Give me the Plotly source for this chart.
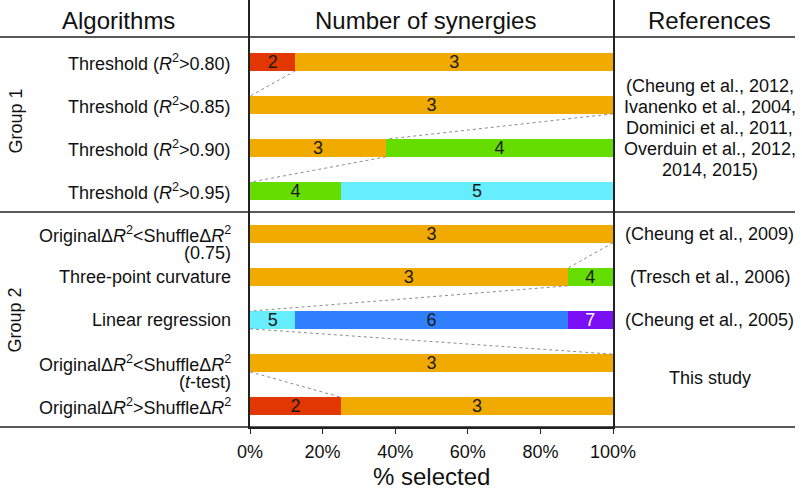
import plotly.graph_objects as go

# ---------------- data ----------------
row_labels = [
    "Threshold (<i>R</i><sup>2</sup>&gt;0.80)",
    "Threshold (<i>R</i><sup>2</sup>&gt;0.85)",
    "Threshold (<i>R</i><sup>2</sup>&gt;0.90)",
    "Threshold (<i>R</i><sup>2</sup>&gt;0.95)",
    "OriginalΔ<i>R</i><sup>2</sup>&lt;ShuffleΔ<i>R</i><sup>2</sup>",
    "Three-point curvature",
    "Linear regression",
    "OriginalΔ<i>R</i><sup>2</sup>&lt;ShuffleΔ<i>R</i><sup>2</sup>",
    "OriginalΔ<i>R</i><sup>2</sup>&gt;ShuffleΔ<i>R</i><sup>2</sup>",
]
row_sublabels = ["", "", "", "", "(0.75)", "", "", "(<i>t</i>-test)", ""]

synergy_counts = [2, 3, 4, 5, 6, 7]
pct_2 = [12.5, 0, 0, 0, 0, 0, 0, 0, 25]
pct_3 = [87.5, 100, 37.5, 0, 100, 87.5, 0, 100, 75]
pct_4 = [0, 0, 62.5, 25, 0, 12.5, 0, 0, 0]
pct_5 = [0, 0, 0, 75, 0, 0, 12.5, 0, 0]
pct_6 = [0, 0, 0, 0, 0, 0, 75, 0, 0]
pct_7 = [0, 0, 0, 0, 0, 0, 12.5, 0, 0]
series = [pct_2, pct_3, pct_4, pct_5, pct_6, pct_7]

# connectors: (row_from, pct_from, row_to, pct_to)
connectors = [
    (0, 12.5, 1, 0),
    (1, 100, 2, 37.5),
    (2, 37.5, 3, 0),
    (4, 100, 5, 87.5),
    (5, 87.5, 6, 0),
    (6, 0, 7, 100),
    (7, 0, 8, 25),
]

references = [
    (1.5, ["(Cheung et al., 2012,", "Ivanenko et al., 2004,", "Dominici et al., 2011,",
           "Overduin et al., 2012,", "2014, 2015)"]),
    (4, ["(Cheung et al., 2009)"]),
    (5, ["(Tresch et al., 2006)"]),
    (6, ["(Cheung et al., 2005)"]),
    (7.35, ["This study"]),
]
groups = [("Group 1", 1.37), ("Group 2", 6.0)]
x_ticks = [0, 20, 40, 60, 80, 100]

# ---------------- style ----------------
colors = {2: "#e23700", 3: "#f0aa00", 4: "#66dd00", 5: "#66eeff", 6: "#2f7fff", 7: "#7a10f5"}
text_colors = {2: "#1a1a1a", 3: "#1a1a1a", 4: "#1a1a1a", 5: "#1a1a1a", 6: "#1a1a1a", 7: "#ffffff"}
FONT = "Liberation Sans, Arial, Helvetica, sans-serif"
INK = "#111111"
LINE = "#222222"

W, H = 802, 492
L, R, T, B = 250, 189, 0, 65
PW = W - L - R
Y_RANGE = [8.488, -1.442]
BAR_W = 0.41

def px_x(px):
    return (px - L) / PW

rows = list(range(len(row_labels)))

fig = go.Figure()

for n, vals in zip(synergy_counts, series):
    ys = [r for r, v in zip(rows, vals) if v > 0]
    xs = [v for v in vals if v > 0]
    fig.add_trace(go.Bar(
        y=ys, x=xs, orientation="h", width=BAR_W,
        marker=dict(color=colors[n], line=dict(width=0)),
        text=[str(n)] * len(xs),
        textposition="inside", insidetextanchor="middle", textangle=0,
        constraintext="none",
        textfont=dict(family=FONT, size=18, color=text_colors[n]),
        hoverinfo="skip", showlegend=False,
    ))

half = BAR_W / 2
for r0, p0, r1, p1 in connectors:
    fig.add_trace(go.Scatter(
        x=[p0, p1], y=[r0 + half, r1 - half], mode="lines",
        line=dict(color="#8c8c8c", width=1, dash="dot"),
        hoverinfo="skip", showlegend=False,
    ))

annotations = []
# headers
for txt, px in [("Algorithms", 118), ("Number of synergies", 425), ("References", 709.5)]:
    annotations.append(dict(text=txt, x=px_x(px), xref="paper", y=-0.977, yref="y",
                            xanchor="center", yanchor="middle", showarrow=False,
                            font=dict(family=FONT, size=24, color=INK)))
# row labels
for i, (lab, sub) in enumerate(zip(row_labels, row_sublabels)):
    annotations.append(dict(text=lab, x=px_x(233), xref="paper", y=i, yref="y",
                            xanchor="right", yanchor="middle", showarrow=False,
                            font=dict(family=FONT, size=18, color=INK)))
    if sub:
        annotations.append(dict(text=sub, x=px_x(233), xref="paper", y=i, yref="y",
                                yshift=-19, xanchor="right", yanchor="middle", showarrow=False,
                                font=dict(family=FONT, size=18, color=INK)))
# references
for yc, lines in references:
    n = len(lines)
    for k, ln in enumerate(lines):
        annotations.append(dict(text=ln, x=px_x(709.5), xref="paper", y=yc, yref="y",
                                yshift=-((k - (n - 1) / 2) * 21) - 1.5 * (n > 1),
                                xanchor="center", yanchor="middle", showarrow=False,
                                font=dict(family=FONT, size=18, color=INK)))
# group labels
for g, yc in groups:
    annotations.append(dict(text=g, x=px_x(15.5), xref="paper", y=yc, yref="y",
                            textangle=-90, xanchor="center", yanchor="middle", showarrow=False,
                            font=dict(family=FONT, size=18, color=INK)))
# x title
annotations.append(dict(text="% selected", x=0.5, xref="paper", y=-50 / (H - T - B), yref="paper",
                        xanchor="center", yanchor="middle", showarrow=False,
                        font=dict(family=FONT, size=24, color=INK)))

shapes = []
for yv in [-0.581, 3.488]:
    shapes.append(dict(type="line", xref="paper", yref="y", x0=px_x(0), x1=px_x(795),
                       y0=yv, y1=yv, line=dict(color=LINE, width=1.6)))
shapes.append(dict(type="line", xref="paper", yref="paper", x0=px_x(0), x1=px_x(795),
                   y0=0, y1=0, line=dict(color=LINE, width=1.6)))

fig.update_layout(
    width=W, height=H, barmode="stack",
    margin=dict(l=L, r=R, t=T, b=B, pad=0),
    paper_bgcolor="white", plot_bgcolor="white",
    font=dict(family=FONT, color=INK),
    annotations=annotations, shapes=shapes,
    xaxis=dict(range=[0, 100], tickvals=x_ticks, ticktext=[f"{v}%" for v in x_ticks],
               ticks="outside", ticklen=5, tickwidth=1.3, tickcolor=LINE,
               showline=True, linecolor=LINE, linewidth=1.6, showgrid=False, zeroline=False,
               tickfont=dict(family=FONT, size=18, color=INK), ticklabelstandoff=3,
               fixedrange=True),
    yaxis=dict(range=Y_RANGE, showticklabels=False, ticks="", showgrid=False, zeroline=False,
               showline=True, mirror=True, linecolor=LINE, linewidth=1.6, fixedrange=True),
)

fig.write_html("out.html", config={"displayModeBar": False},
               post_script="document.body.style.margin='0';document.body.style.overflow='hidden';")
